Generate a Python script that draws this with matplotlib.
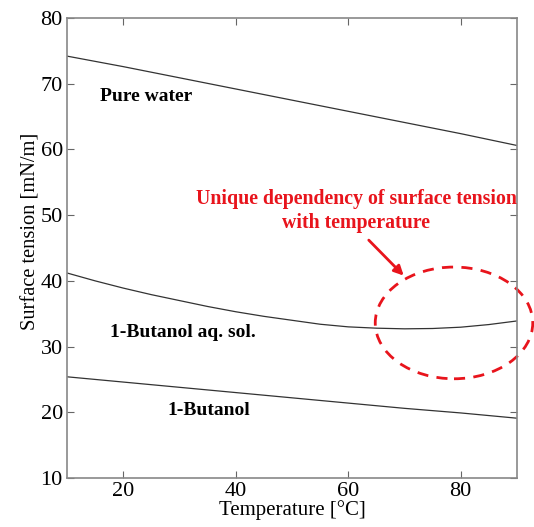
import matplotlib
matplotlib.use("Agg")
import matplotlib.pyplot as plt
from matplotlib.patches import Ellipse
import numpy as np

temps = [10, 15, 20, 25, 30, 35, 40, 45, 50, 55, 60, 65, 70, 75, 80, 85, 90]
pure_water = [74.2, 73.4, 72.6, 71.75, 70.9, 70.05, 69.2, 68.35, 67.5, 66.65, 65.8, 64.95, 64.1, 63.25, 62.4, 61.5, 60.6]
butanol_aq = [41.2, 40.0, 38.9, 37.9, 37.0, 36.1, 35.3, 34.6, 34.0, 33.4, 33.0, 32.8, 32.7, 32.75, 32.95, 33.35, 33.9]
butanol = [25.4, 25.0, 24.6, 24.2, 23.8, 23.4, 23.0, 22.6, 22.2, 21.8, 21.4, 21.0, 20.6, 20.25, 19.9, 19.5, 19.1]

xticks = [20, 40, 60, 80]
yticks = [10, 20, 30, 40, 50, 60, 70, 80]

plt.rcParams['font.family'] = ['Liberation Serif', 'DejaVu Serif']

fig = plt.figure(figsize=(5.34, 5.27), dpi=100)
ax = fig.add_axes([67/534, 1 - 478/527, 450/534, 460/527])

for ys in (pure_water, butanol_aq, butanol):
    ax.plot(temps, ys, color='#333333', lw=0.9)

ax.set_xlim(10, 90)
ax.set_ylim(10, 80)
ax.set_xticks(xticks)
ax.set_yticks(yticks)
ax.tick_params(direction='in', top=True, right=True, labelsize=16, length=5, color='#666666', pad=3)
for s in ax.spines.values():
    s.set_color('#888888')
    s.set_linewidth(1.2)

ax.set_xlabel('Temperature [°C]', fontsize=15, labelpad=-1)
ax.set_ylabel('Surface tension [mN/m]', fontsize=14.7)
ax.yaxis.set_label_coords(-0.058, 0.537)

ax.text(15.8, 68.0, 'Pure water', fontsize=14, fontweight='bold', va='center')
ax.text(17.6, 32.1, '1-Butanol aq. sol.', fontsize=14, fontweight='bold', va='center')
ax.text(27.9, 20.3, '1-Butanol', fontsize=14, fontweight='bold', va='center')

ax.text(61.4, 50.6, 'Unique dependency of surface tension\nwith temperature', color='#e8141c',
        fontsize=14.3, fontweight='bold', ha='center', va='center', linespacing=1.3)

ax.annotate('', xy=(70.2, 40.5), xytext=(63.3, 46.5),
            arrowprops=dict(arrowstyle='-|>', color='#e8141c', lw=2, mutation_scale=14))

ell = Ellipse((78.8, 33.6), width=28.0, height=17.0, fill=False, edgecolor='#e8141c',
              lw=2, linestyle=(0, (4, 3)), clip_on=False)
ax.add_patch(ell)

fig.savefig('out.png', dpi=100)
